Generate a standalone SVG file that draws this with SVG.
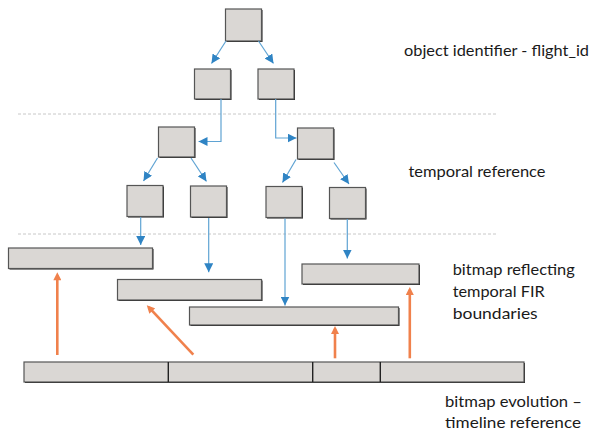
<svg xmlns="http://www.w3.org/2000/svg" width="591" height="432" viewBox="0 0 591 432">
  <style>
    .node rect.face { fill: #dad7d4; stroke: #555555; stroke-width: 1.2; }
    .node rect.shade { fill: #1e1e1e; }
    .sep { stroke: #c8c8c8; stroke-width: 1; stroke-dasharray: 3 2; fill: none; }
    .blue { stroke: #5fa3d3; stroke-width: 1.2; fill: none; marker-end: url(#headBlue); }
    .orange { stroke: #f0814c; stroke-width: 2.6; fill: none; marker-end: url(#headOrange); }
    .tick { stroke: #222222; stroke-width: 1.4; }
    text { font-family: Lato, "Open Sans", "Liberation Sans", sans-serif; font-size: 15px; fill: #1a1a1a; }
  </style>
  <defs>
    <marker id="headBlue" viewBox="0 0 10 10" refX="10" refY="5" markerWidth="9" markerHeight="9" markerUnits="userSpaceOnUse" orient="auto">
      <path d="M0,0 L10,5 L0,10 z" fill="#2f84c4"/>
    </marker>
    <marker id="headOrange" viewBox="0 0 10 10" refX="6.5" refY="5" markerWidth="9" markerHeight="8" markerUnits="userSpaceOnUse" orient="auto">
      <path d="M0,0 L10,5 L0,10 z" fill="#f0814c"/>
    </marker>
  </defs>

  <rect width="591" height="432" fill="#ffffff"/>

  <!-- level separators -->
  <line class="sep" x1="18" y1="114" x2="497" y2="114"/>
  <line class="sep" x1="18" y1="234" x2="497" y2="234"/>

  <!-- object identifier tree -->
  <g id="n0" class="node"><rect class="shade" x="226.5" y="10" width="36" height="32"/><rect class="face" x="225.5" y="9" width="36" height="32"/></g>
  <g id="n1" class="node"><rect class="shade" x="195.5" y="70" width="36" height="30"/><rect class="face" x="194.5" y="69" width="36" height="30"/></g>
  <g id="n2" class="node"><rect class="shade" x="259" y="70" width="36" height="30"/><rect class="face" x="258" y="69" width="36" height="30"/></g>

  <!-- temporal reference tree -->
  <g id="n3" class="node"><rect class="shade" x="159.5" y="128" width="36" height="30"/><rect class="face" x="158.5" y="127" width="36" height="30"/></g>
  <g id="n4" class="node"><rect class="shade" x="298.5" y="129" width="36" height="31"/><rect class="face" x="297.5" y="128" width="36" height="31"/></g>
  <g id="n5" class="node"><rect class="shade" x="128" y="186.5" width="36" height="31"/><rect class="face" x="127" y="185.5" width="36" height="31"/></g>
  <g id="n6" class="node"><rect class="shade" x="191.5" y="187" width="36" height="31"/><rect class="face" x="190.5" y="186" width="36" height="31"/></g>
  <g id="n7" class="node"><rect class="shade" x="267" y="187.5" width="36" height="31"/><rect class="face" x="266" y="186.5" width="36" height="31"/></g>
  <g id="n8" class="node"><rect class="shade" x="330.5" y="188.5" width="36" height="31"/><rect class="face" x="329.5" y="187.5" width="36" height="31"/></g>

  <!-- FIR bitmaps -->
  <g id="b1" class="node"><rect class="shade" x="9.5" y="249" width="144" height="20.5"/><rect class="face" x="8.5" y="248" width="144" height="20.5"/></g>
  <g id="b2" class="node"><rect class="shade" x="118.5" y="280.5" width="144" height="20.5"/><rect class="face" x="117.5" y="279.5" width="144" height="20.5"/></g>
  <g id="b3" class="node"><rect class="shade" x="190.5" y="308" width="209" height="18"/><rect class="face" x="189.5" y="307" width="209" height="18"/></g>
  <g id="b4" class="node"><rect class="shade" x="303" y="265" width="117" height="20"/><rect class="face" x="302" y="264" width="117" height="20"/></g>

  <!-- timeline bitmap -->
  <g id="timeline" class="node">
    <rect class="shade" x="25" y="363" width="500" height="20"/>
    <rect class="face" x="24" y="362" width="500" height="20"/>
    <line class="tick" x1="168.3" y1="362" x2="168.3" y2="382"/>
    <line class="tick" x1="312.7" y1="362" x2="312.7" y2="382"/>
    <line class="tick" x1="380.3" y1="362" x2="380.3" y2="382"/>
  </g>

  <!-- connectors -->
  <g id="connectors">
    <path class="blue" d="M226,41 L211.5,63.5"/>
    <path class="blue" d="M258.5,41 L273.5,63.5"/>
    <path class="blue" d="M221,99 V141.5 H198.5"/>
    <path class="blue" d="M275.7,99 V138 H296.5"/>
    <path class="blue" d="M157.5,158 L143.5,181"/>
    <path class="blue" d="M191,158 L206.5,181.5"/>
    <path class="blue" d="M296,159.5 L282.5,182.5"/>
    <path class="blue" d="M334,162.5 L349,184"/>
    <path class="blue" d="M140.7,217 V245"/>
    <path class="blue" d="M208.7,218 V272.3"/>
    <path class="blue" d="M285,218.5 V305.5"/>
    <path class="blue" d="M347.3,219 V258.5"/>

    <path class="orange" d="M57.3,355 V275"/>
    <path class="orange" d="M193.3,354.7 L148.7,307.2"/>
    <path class="orange" d="M335,358.3 V328.7"/>
    <path class="orange" d="M409.8,358.3 V289.7"/>
  </g>

  <!-- labels -->
  <text x="404" y="56" textLength="185" lengthAdjust="spacingAndGlyphs">object identifier - flight_id</text>
  <text x="408.5" y="177" textLength="137" lengthAdjust="spacingAndGlyphs">temporal reference</text>
  <text x="452.7" y="275" textLength="122" lengthAdjust="spacingAndGlyphs">bitmap reflecting</text>
  <text x="452.7" y="297" textLength="92" lengthAdjust="spacingAndGlyphs">temporal FIR</text>
  <text x="452.7" y="319" textLength="85" lengthAdjust="spacingAndGlyphs">boundaries</text>
  <text x="445" y="407" textLength="137" lengthAdjust="spacingAndGlyphs">bitmap evolution –</text>
  <text x="445" y="428" textLength="136" lengthAdjust="spacingAndGlyphs">timeline reference</text>
</svg>
